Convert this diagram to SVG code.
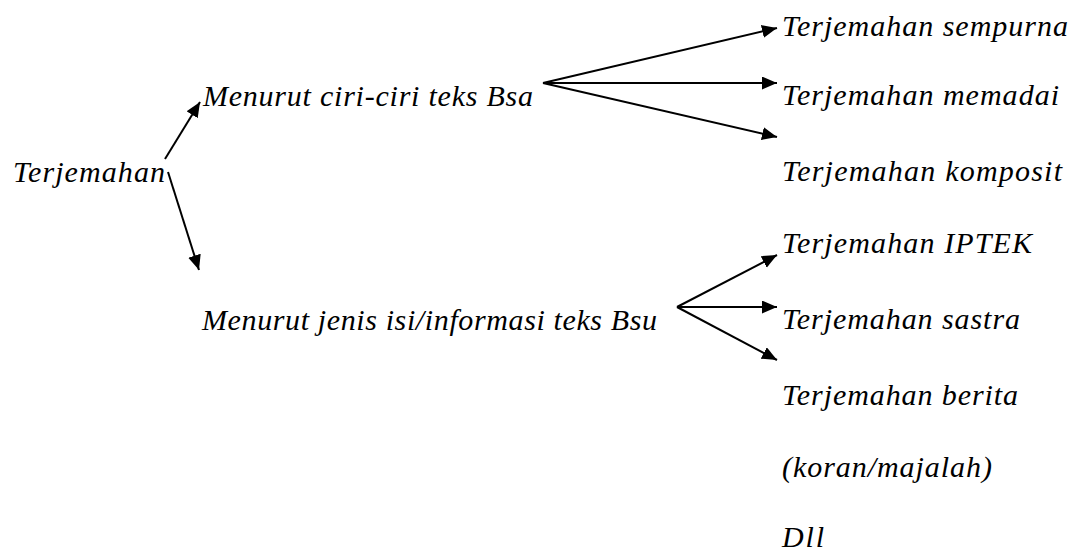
<svg xmlns="http://www.w3.org/2000/svg" width="1071" height="553" viewBox="0 0 1071 553">
  <defs>
    <marker id="arrow" markerUnits="userSpaceOnUse" markerWidth="16" markerHeight="14" refX="15" refY="6.5" orient="auto">
      <path d="M0,0 L15,6.5 L0,13 Z" fill="#000"/>
    </marker>
    <style>
      .t { font-family: 'Liberation Serif', serif; font-style: italic; font-size: 30px; fill: #000; }
      .c { stroke: #000; stroke-width: 2; fill: none; marker-end: url(#arrow); }
    </style>
  </defs>
  <rect width="1071" height="553" fill="#fff"/>

  <g id="connectors">
    <line class="c" x1="165" y1="159" x2="200" y2="102"/>
    <line class="c" x1="168" y1="172" x2="199" y2="270"/>
    <line class="c" x1="543" y1="83" x2="777" y2="28"/>
    <line class="c" x1="543" y1="83" x2="777" y2="83"/>
    <line class="c" x1="543" y1="83" x2="777" y2="137"/>
    <line class="c" x1="677" y1="307" x2="777" y2="255"/>
    <line class="c" x1="677" y1="307" x2="777" y2="307"/>
    <line class="c" x1="677" y1="307" x2="777" y2="360"/>
  </g>

  <g id="root"><text class="t" x="13" y="182" textLength="152" lengthAdjust="spacing">Terjemahan</text></g>
  <g id="ciri"><text class="t" x="203" y="106" textLength="330" lengthAdjust="spacing">Menurut ciri-ciri teks Bsa</text></g>
  <g id="jenis"><text class="t" x="202" y="330" textLength="455" lengthAdjust="spacing">Menurut jenis isi/informasi teks Bsu</text></g>

  <g id="sempurna"><text class="t" x="782" y="36" textLength="286" lengthAdjust="spacing">Terjemahan sempurna</text></g>
  <g id="memadai"><text class="t" x="782" y="105" textLength="277" lengthAdjust="spacing">Terjemahan memadai</text></g>
  <g id="komposit"><text class="t" x="782" y="181" textLength="280" lengthAdjust="spacing">Terjemahan komposit</text></g>
  <g id="iptek"><text class="t" x="782" y="253" textLength="250" lengthAdjust="spacing">Terjemahan IPTEK</text></g>
  <g id="sastra"><text class="t" x="782" y="329" textLength="238" lengthAdjust="spacing">Terjemahan sastra</text></g>
  <g id="berita"><text class="t" x="782" y="405" textLength="236" lengthAdjust="spacing">Terjemahan berita</text></g>
  <g id="koran"><text class="t" x="782" y="477" textLength="210" lengthAdjust="spacing">(koran/majalah)</text></g>
  <g id="dll"><text class="t" x="782" y="547" textLength="42" lengthAdjust="spacing">Dll</text></g>
</svg>
